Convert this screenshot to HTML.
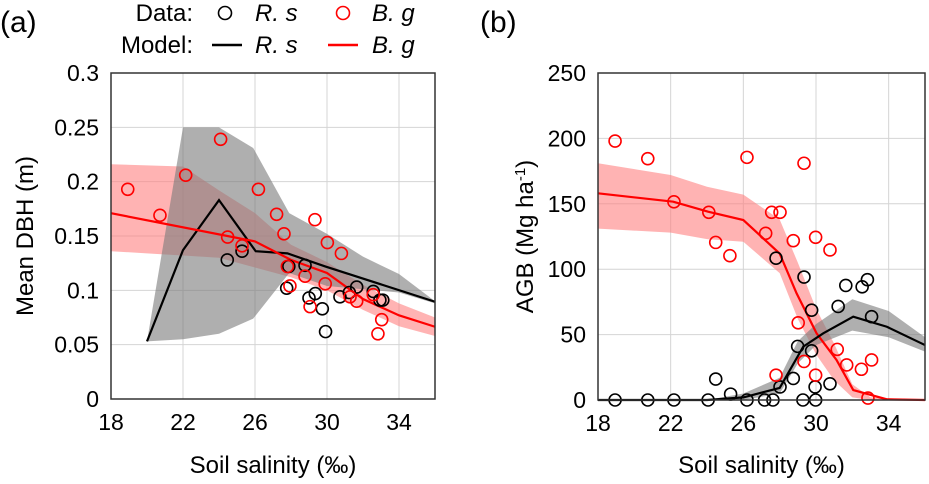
<!DOCTYPE html>
<html><head><meta charset="utf-8"><style>
body{margin:0;background:#fff;width:929px;height:479px;overflow:hidden}
svg{font-family:"Liberation Sans",sans-serif}
</style></head><body>
<svg id="chart" width="929" height="479">
<g font-size="24">
<text x="0" y="32" font-size="30">(a)</text>
<text x="480" y="32" font-size="30">(b)</text>
<text x="193" y="21" text-anchor="end">Data:</text>
<circle cx="225" cy="13" r="6.5" fill="none" stroke="#000" stroke-width="1.6"/>
<text x="255" y="21" font-style="italic">R. s</text>
<circle cx="343" cy="13" r="6.5" fill="none" stroke="#f00" stroke-width="1.6"/>
<text x="372" y="21" font-style="italic">B. g</text>
<text x="193" y="53" text-anchor="end">Model:</text>
<line x1="212" x2="242" y1="45" y2="45" stroke="#000" stroke-width="2.5"/>
<text x="255" y="53" font-style="italic">R. s</text>
<line x1="328" x2="358" y1="45" y2="45" stroke="#f00" stroke-width="2.5"/>
<text x="372" y="53" font-style="italic">B. g</text>
</g>
</svg>
<script>
// ---- Panel (a) data: Mean DBH ----
const xTicks = [18,22,26,30,34];
const aYTicks = [0,0.05,0.1,0.15,0.2,0.25,0.3];
const aYTickLabels = ["0","0.05","0.1","0.15","0.2","0.25","0.3"];
const aRsLineX = [20,22,24,26.04,27.8,29.9,36];
const aRsLineY = [0.053,0.137,0.183,0.136,0.134,0.122,0.0895];
const aRsBandX = [20,22,24,25.9,27.9,30,32,34,36];
const aRsBandHi = [0.053,0.25,0.25,0.231,0.171,0.152,0.131,0.115,0.09];
const aRsBandLo = [0.053,0.055,0.060,0.074,0.116,0.104,0.101,0.098,0.088];
const aBgLineX = [18,26,28,30,32,34,36];
const aBgLineY = [0.171,0.145,0.128,0.116,0.092,0.077,0.0665];
const aBgBandX = [18,20,22,24,26,28,30,32,34,36];
const aBgBandHi = [0.216,0.215,0.214,0.192,0.171,0.142,0.126,0.105,0.088,0.075];
const aBgBandLo = [0.136,0.134,0.132,0.130,0.121,0.112,0.100,0.082,0.067,0.058];
const aBgPtsX = [18.93,20.72,22.15,24.09,24.48,25.28,26.19,27.2,27.61,27.8,27.94,28.78,29.33,29.06,30.02,29.9,30.8,31.28,31.65,32.57,33.04,32.83];
const aBgPtsY = [0.193,0.169,0.206,0.239,0.149,0.141,0.193,0.170,0.152,0.122,0.104,0.113,0.165,0.085,0.144,0.106,0.134,0.094,0.090,0.096,0.073,0.060];
const aRsPtsX = [24.46,25.28,27.88,27.76,28.78,29.0,29.35,29.74,29.92,30.72,31.24,31.65,32.57,32.94,33.1];
const aRsPtsY = [0.128,0.136,0.122,0.102,0.123,0.093,0.097,0.083,0.062,0.094,0.098,0.103,0.099,0.091,0.091];
// ---- Panel (b) data: AGB ----
const bYTicks = [0,50,100,150,200,250];
const bYTickLabels = ["0","50","100","150","200","250"];
const bBgLineX = [18,22.14,24.06,26,28,28.93,30.03,31.13,32.05,33.9,36];
const bBgLineY = [158,151.6,144,137.6,112,81.6,51,30.6,7.6,0.5,0];
const bBgBandX = [18,22,24,26,28,29,30,31,32,33,36];
const bBgBandHi = [181,172,163,157,138,105,70,43,12,2,0];
const bBgBandLo = [131,128,123,121,97,62,35,15,2,0,0];
const bRsLineX = [18,24,26,28,29.3,30.4,32.05,33.9,36];
const bRsLineY = [0,0,2,9.2,40.8,51,63.7,56,42];
const bRsBandX = [18,24,26,28,29,30,32,34,36];
const bRsBandHi = [0,0,5,17,45,58,77,68,48];
const bRsBandLo = [0,0,0,5,28,42,53,48,37];
const bBgPtsX = [18.94,20.74,22.18,24.1,24.48,25.26,26.2,27.23,27.56,28.02,28.75,29.34,29.98,30.77,29.02,27.8,29.98,29.34,31.17,31.69,32.5,33.06,32.86];
const bBgPtsY = [198,184.5,151.5,143.5,120.5,110.3,185.5,127.4,143.5,143.5,121.8,181,124.4,114.7,59,19,19,29.5,38.7,26.8,23.5,30.6,1.5];
const bRsPtsX = [18.94,20.74,22.18,24.06,26.2,27.17,27.63,29.28,29.98,24.48,25.3,28.02,28.75,28.99,29.34,27.8,29.76,29.76,29.95,30.77,31.22,31.64,32.54,32.83,33.06];
const bRsPtsY = [0,0,0,0,0,0,0,0,0,16,4.5,10,16.5,41,94,108.4,68.7,37.6,10,12.4,71.5,87.6,86.5,92,63.7];

const NS="http://www.w3.org/2000/svg";
const svg=document.getElementById('chart');
function mk(tag,attrs,parent){const e=document.createElementNS(NS,tag);for(const k in attrs)e.setAttribute(k,attrs[k]);(parent||svg).appendChild(e);return e;}

function panel(p){
  const g=mk('g',{});
  
  
  const sx=v=>p.L+(v-18)/(36-18)*(p.R-p.L);
  const sy=v=>p.B-(v-p.ymin)/(p.ymax-p.ymin)*(p.B-p.T);
  xTicks.forEach(t=>{const l=mk('line',{x1:sx(t),x2:sx(t),y1:p.T,y2:p.B,stroke:'#d4d4d4','stroke-width':1},g);
    });
  p.yTicks.forEach(t=>{const l=mk('line',{x1:p.L,x2:p.R,y1:sy(t),y2:sy(t),stroke:'#d4d4d4','stroke-width':1},g);
    });
  function band(xs,hi,lo,fill,op,name){
    let d='M'+xs.map((x,i)=>sx(x)+','+sy(hi[i])).join('L');
    for(let i=xs.length-1;i>=0;i--)d+='L'+sx(xs[i])+','+sy(lo[i]);
    const e=mk('path',{d:d+'Z',fill:fill,'fill-opacity':op},g);
    
  }
  function line(xs,ys,col,name){
    const e=mk('polyline',{points:xs.map((x,i)=>sx(x)+','+sy(ys[i])).join(' '),fill:'none',stroke:col,'stroke-width':2.2},g);
    
  }
  function pts(xs,ys,col,name){
    xs.forEach((x,i)=>{const c=mk('circle',{cx:sx(x),cy:sy(ys[i]),r:6,fill:'none',stroke:col,'stroke-width':1.6},g);
      });
  }
  p.draw(band,line,pts);
  const fr=mk('rect',{x:p.L,y:p.T,width:p.R-p.L,height:p.B-p.T,fill:'none',stroke:'#333','stroke-width':1.5},g);
  
  xTicks.forEach(t=>{const e=mk('text',{x:sx(t),y:p.B+31,'text-anchor':'middle','font-size':23},g);e.textContent=t;
    });
  p.yTicks.forEach((t,i)=>{const e=mk('text',{x:p.L-12,y:sy(t)+8,'text-anchor':'end','font-size':23},g);e.textContent=p.yLabels[i];
    });
  const xt=mk('text',{x:(p.L+p.R)/2,y:473,'text-anchor':'middle','font-size':24},g);xt.textContent='Soil salinity (‰)';
  
  const yt=mk('text',{x:0,y:0,'text-anchor':'middle','font-size':24,transform:`translate(${p.ytX},${(p.T+p.B)/2}) rotate(-90)`},g);
  yt.innerHTML=p.ytitle;
  
}

panel({name:'panel-a-dbh',L:111,R:435,T:73,B:399,ymin:0,ymax:0.3,yTicks:aYTicks,yLabels:aYTickLabels,ytX:33,ytitle:'Mean DBH (m)',
  draw:(band,line,pts)=>{
    band(aBgBandX,aBgBandHi,aBgBandLo,'#ff8080',0.6,'bg-model-band');
    band(aRsBandX,aRsBandHi,aRsBandLo,'#7a7a7a',0.6,'rs-model-band');
    line(aRsLineX,aRsLineY,'#000','rs-model-line');
    line(aBgLineX,aBgLineY,'#f00','bg-model-line');
    pts(aRsPtsX,aRsPtsY,'#000','rs-data-point');
    pts(aBgPtsX,aBgPtsY,'#f00','bg-data-point');
  }});
panel({name:'panel-b-agb',L:598,R:925,T:73,B:400,ymin:0,ymax:250,yTicks:bYTicks,yLabels:bYTickLabels,ytX:533,ytitle:'AGB (Mg ha<tspan font-size="15" dy="-8">-1</tspan><tspan dy="8">)</tspan>',
  draw:(band,line,pts)=>{
    band(bBgBandX,bBgBandHi,bBgBandLo,'#ff8080',0.6,'bg-model-band');
    band(bRsBandX,bRsBandHi,bRsBandLo,'#7a7a7a',0.6,'rs-model-band');
    line(bBgLineX,bBgLineY,'#f00','bg-model-line');
    line(bRsLineX,bRsLineY,'#000','rs-model-line');
    pts(bRsPtsX,bRsPtsY,'#000','rs-data-point');
    pts(bBgPtsX,bBgPtsY,'#f00','bg-data-point');
  }});
</script>
</body></html>
